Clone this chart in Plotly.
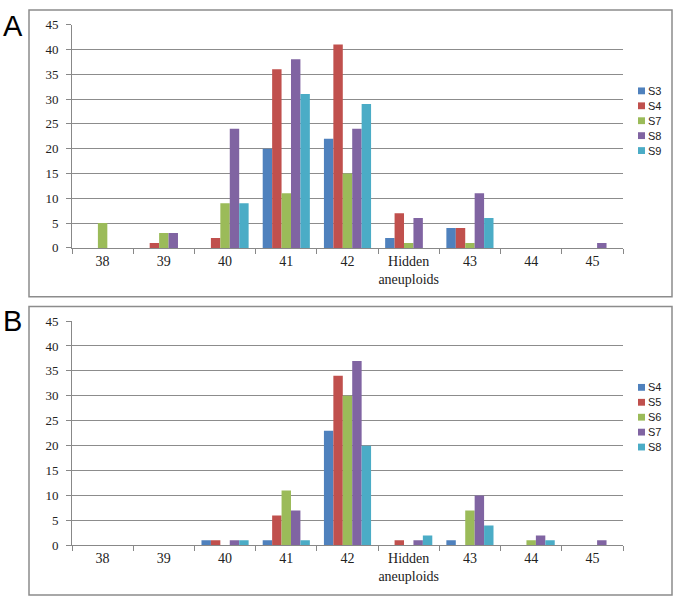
import plotly.graph_objects as go

categories = ["38", "39", "40", "41", "42", "Hidden<br>aneuploids", "43", "44", "45"]

series_a_names = ["S3", "S4", "S7", "S8", "S9"]
a_S3 = [0, 0, 0, 20, 22, 2, 4, 0, 0]
a_S4 = [0, 1, 2, 36, 41, 7, 4, 0, 0]
a_S7 = [5, 3, 9, 11, 15, 1, 1, 0, 0]
a_S8 = [0, 3, 24, 38, 24, 6, 11, 0, 1]
a_S9 = [0, 0, 9, 31, 29, 0, 6, 0, 0]
series_a = [a_S3, a_S4, a_S7, a_S8, a_S9]

series_b_names = ["S4", "S5", "S6", "S7", "S8"]
b_S4 = [0, 0, 1, 1, 23, 0, 1, 0, 0]
b_S5 = [0, 0, 1, 6, 34, 1, 0, 0, 0]
b_S6 = [0, 0, 0, 11, 30, 0, 7, 1, 0]
b_S7 = [0, 0, 1, 7, 37, 1, 10, 2, 1]
b_S8 = [0, 0, 1, 1, 20, 2, 4, 1, 0]
series_b = [b_S4, b_S5, b_S6, b_S7, b_S8]

colors = ["#4F81BD", "#C0504D", "#9BBB59", "#8064A2", "#4BACC6"]
y_ticks = [0, 5, 10, 15, 20, 25, 30, 35, 40, 45]

W, H = 677, 607
fig = go.Figure()

for name, vals, c in zip(series_a_names, series_a, colors):
    fig.add_trace(go.Bar(x=categories, y=vals, name=name, marker_color=c,
                         marker_line_width=0, xaxis="x", yaxis="y", showlegend=False))
for name, vals, c in zip(series_b_names, series_b, colors):
    fig.add_trace(go.Bar(x=categories, y=vals, name=name, marker_color=c,
                         marker_line_width=0, xaxis="x2", yaxis="y2", showlegend=False))

def px_x(p):
    return p / W

def px_y(p):
    return 1 - p / H

serif = "Liberation Serif"
sans = "Liberation Sans"

xaxis_common = dict(
    type="category", tickson="boundaries", ticks="outside", ticklen=5,
    tickcolor="#888888", showline=True, linecolor="#888888", linewidth=1,
    showgrid=False, tickangle=0,
    tickfont=dict(family=serif, size=14, color="#222222"),
    domain=[px_x(72), px_x(623)], fixedrange=True,
)
yaxis_common = dict(
    range=[0, 45], tickvals=y_ticks, ticks="outside", ticklen=5,
    tickcolor="#888888", showline=True, linecolor="#888888", linewidth=1,
    showgrid=True, gridcolor="#8c8c8c", gridwidth=1, zeroline=False,
    ticklabelstandoff=5,
    tickfont=dict(family=serif, size=13, color="#222222"), fixedrange=True,
)

shapes = [
    dict(type="rect", xref="paper", yref="paper",
         x0=px_x(29), x1=px_x(672), y0=px_y(297), y1=px_y(3),
         line=dict(color="#8c8c8c", width=1.5)),
    dict(type="rect", xref="paper", yref="paper",
         x0=px_x(29), x1=px_x(672), y0=px_y(603), y1=px_y(307),
         line=dict(color="#8c8c8c", width=1.5)),
]
annotations = [
    dict(text="A", xref="paper", yref="paper", x=px_x(1), y=px_y(1),
         xanchor="left", yanchor="top", showarrow=False,
         font=dict(family=sans, size=29, color="black")),
    dict(text="B", xref="paper", yref="paper", x=px_x(1), y=px_y(304),
         xanchor="left", yanchor="top", showarrow=False,
         font=dict(family=sans, size=29, color="black")),
]

# manual legends (to match the tight Excel-style spacing)
def add_legend(names, y_start):
    for i, (n, c) in enumerate(zip(names, colors)):
        yc = y_start + i * 15.3
        shapes.append(dict(type="rect", xref="paper", yref="paper",
                           x0=px_x(638), x1=px_x(645), y0=px_y(yc + 3.5), y1=px_y(yc - 3.5),
                           fillcolor=c, line=dict(width=0)))
        annotations.append(dict(text=n, xref="paper", yref="paper",
                                x=px_x(646), y=px_y(yc), xanchor="left", yanchor="middle",
                                showarrow=False,
                                font=dict(family=sans, size=11, color="#222222")))

add_legend(series_a_names, 86)
add_legend(series_b_names, 390)

fig.update_layout(
    width=W, height=H,
    margin=dict(l=0, r=0, t=0, b=0),
    paper_bgcolor="white", plot_bgcolor="white",
    barmode="group", bargap=0.23, bargroupgap=0,
    xaxis=dict(**xaxis_common, anchor="y"),
    yaxis=dict(**yaxis_common, domain=[px_y(247), px_y(18)], anchor="x"),
    xaxis2=dict(**xaxis_common, anchor="y2"),
    yaxis2=dict(**yaxis_common, domain=[px_y(552), px_y(322)], anchor="x2"),
    showlegend=False,
    hovermode=False,
    shapes=shapes,
    annotations=annotations,
)

fig.write_html("out.html", config={"displayModeBar": False},
               post_script="document.body.style.margin='0';document.body.style.overflow='hidden';")
